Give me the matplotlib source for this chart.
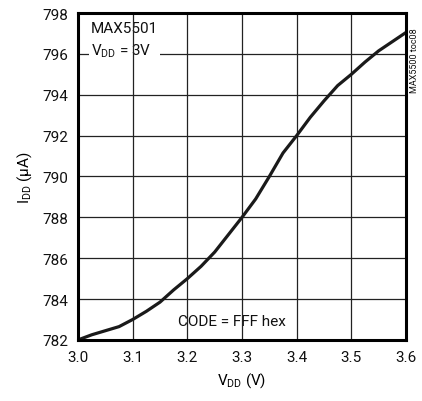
import matplotlib
matplotlib.use("Agg")
import matplotlib.pyplot as plt

# supply current vs supply voltage, CODE = FFF hex
vdd = [3.0, 3.025, 3.05, 3.075, 3.1, 3.125, 3.15, 3.175, 3.2, 3.225, 3.25, 3.275,
       3.3, 3.325, 3.35, 3.375, 3.4, 3.425, 3.45, 3.475, 3.5, 3.525, 3.55, 3.575, 3.6]
idd = [782.0, 782.25, 782.45, 782.65, 783.0, 783.4, 783.85, 784.45, 785.0, 785.6, 786.3, 787.15,
       788.0, 788.9, 790.0, 791.15, 792.0, 792.9, 793.7, 794.45, 795.0, 795.6, 796.15, 796.6, 797.05]

xticks = [3.0, 3.1, 3.2, 3.3, 3.4, 3.5, 3.6]
yticks = [782, 784, 786, 788, 790, 792, 794, 796, 798]

font = "Roboto"
plt.rcParams["font.family"] = [font, "DejaVu Sans"]
plt.rcParams["text.color"] = "#111111"
plt.rcParams["mathtext.fontset"] = "custom"
plt.rcParams["mathtext.rm"] = font
plt.rcParams["mathtext.it"] = font

fig = plt.figure(figsize=(4.22, 4.02), dpi=100)
ax = fig.add_axes([0.185, 0.152, 0.777, 0.813])

# grid: horizontals under the label box, verticals over it
for y in yticks:
    ax.axhline(y, color="#222222", lw=0.9, zorder=1)
for x in xticks:
    ax.axvline(x, color="#222222", lw=0.9, zorder=2)

ax.plot(vdd, idd, color="#1a1a1a", lw=2.3, zorder=3)

ax.set_xlim(3.0, 3.6)
ax.set_ylim(782, 798)
ax.set_xticks(xticks)
ax.set_xticklabels([f"{x:.1f}" for x in xticks])
ax.set_yticks(yticks)
ax.tick_params(length=0, labelsize=11, pad=7, labelcolor="#111111")
for s in ax.spines.values():
    s.set_linewidth(2.2)
    s.set_zorder(4)

ax.set_xlabel(r"V$_{\mathrm{DD}}$ (V)", fontsize=11, labelpad=5)
ax.set_ylabel(r"I$_{\mathrm{DD}}$ ($\mathrm{\mu}$A)", fontsize=11, labelpad=6)

ax.text(0.04, 0.975, "MAX5501\n" + r"V$_{\mathrm{DD}}$ = 3V", transform=ax.transAxes,
        ha="left", va="top", fontsize=11, linespacing=1.5, zorder=1.5,
        bbox=dict(fc="white", ec="none", pad=1.5))
ax.text(0.47, 0.058, "CODE = FFF hex", transform=ax.transAxes, ha="center", va="center",
        fontsize=11, zorder=1.5)

fig.text(0.982, 0.93, "MAX5500 toc08", rotation=90, ha="center", va="top", fontsize=6.5)

fig.savefig("out.png", dpi=100)
